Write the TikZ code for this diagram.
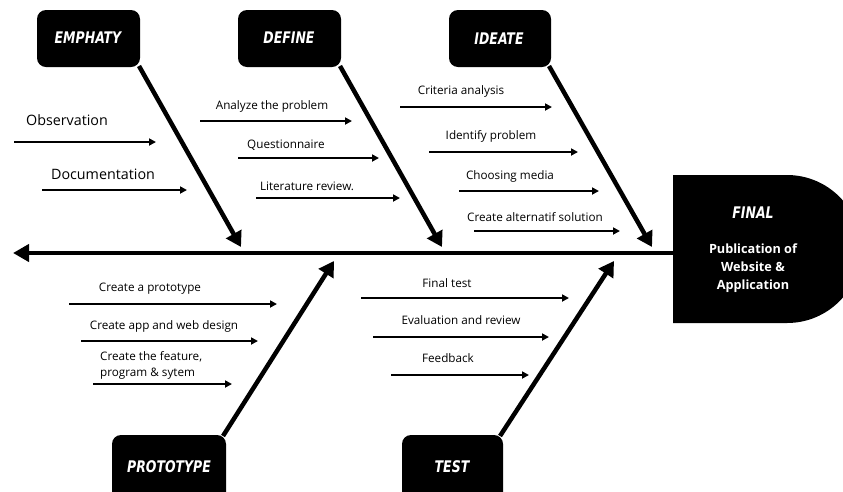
\documentclass[tikz,border=0pt]{standalone}
\usepackage{fontspec}
\setmainfont{Open Sans}
\newfontfamily\headfont{DejaVu Sans}
\usetikzlibrary{arrows.meta}
\tikzset{
  hbox/.style={fill=black, rounded corners=9pt},
  htext/.style={text=white, font=\headfont\bfseries\itshape\fontsize{16}{16}\selectfont, inner sep=0pt},
  bone/.style={line width=4.5pt, -{Triangle[length=15pt,width=17pt]}},
  twig/.style={line width=1.8pt, -{Triangle[length=7pt,width=7pt]}},
  lbl/.style={font=\fontsize{11.7}{13}\selectfont, inner sep=0pt},
  biglbl/.style={font=\fontsize{14.3}{16}\selectfont, inner sep=0pt},
}
\newcommand{\hd}[1]{\scalebox{0.78}[1]{#1}}
\begin{document}
\begin{tikzpicture}[x=1pt,y=-1pt]
\useasboundingbox (0,0) rectangle (843,491);
\begin{scope}
\clip (0,0) rectangle (843,491);
% header boxes
\fill[hbox] (37,10) rectangle (140,67);
\fill[hbox] (238,10) rectangle (341,67);
\fill[hbox] (449,10) rectangle (551,67);
\fill[hbox] (112,435) rectangle (226,510);
\fill[hbox] (402,435) rectangle (503,510);
% final box
\fill (673,175) -- (787,175) arc[start angle=-90, end angle=90, radius=74] -- (673,323) -- cycle;
\end{scope}
\node[htext] (emp) at (88,38) {\hd{EMPHATY}};
\node[htext] (def) at (289,38) {\hd{DEFINE}};
\node[htext] (ide) at (499,39) {\hd{IDEATE}};
\node[htext] (pro) at (169,467) {\hd{PROTOTYPE}};
\node[htext] (tst) at (452,467) {\hd{TEST}};
\node[htext] (fin) at (753,213) {\hd{FINAL}};
\node[text=white, font=\bfseries\fontsize{12.7}{18}\selectfont, align=center, inner sep=0pt] (pub) at (753,268) {Publication of\\Website \&\\Application};
% spine
\coordinate (sp1) at (673,253);
\coordinate (sp0) at (13,253);
\draw[line width=4pt, -{Triangle[length=16pt,width=17pt]}] (sp1) -- (sp0);
% bones
\coordinate (e0) at (139,66); \coordinate (e1) at (241,247);
\coordinate (d0) at (340,66); \coordinate (d1) at (442,247);
\coordinate (i0) at (549,66); \coordinate (i1) at (652,247);
\coordinate (p0) at (223,436); \coordinate (p1) at (334,261);
\coordinate (t0) at (500,436); \coordinate (t1) at (614,261);
\draw[bone] (e0) -- (e1);
\draw[bone] (d0) -- (d1);
\draw[bone] (i0) -- (i1);
\draw[bone] (p0) -- (p1);
\draw[bone] (t0) -- (t1);
% emphaty twigs
\node[biglbl] (obs) at (67,120) {Observation};
\coordinate (a1s) at (14,142); \coordinate (a1e) at (156,142);
\draw[twig] (a1s) -- (a1e);
\node[biglbl] (doc) at (103,174) {Documentation};
\coordinate (a2s) at (42,190); \coordinate (a2e) at (187,190);
\draw[twig] (a2s) -- (a2e);
% define twigs
\node[lbl] (ana) at (272,106) {Analyze the problem};
\coordinate (b1s) at (200,121); \coordinate (b1e) at (352,121);
\draw[twig] (b1s) -- (b1e);
\node[lbl] (que) at (286,145) {Questionnaire};
\coordinate (b2s) at (238,158); \coordinate (b2e) at (379,158);
\draw[twig] (b2s) -- (b2e);
\node[lbl] (lit) at (307,186) {Literature review.};
\coordinate (b3s) at (256,198); \coordinate (b3e) at (400,198);
\draw[twig] (b3s) -- (b3e);
% ideate twigs
\node[lbl] (cri) at (461,91) {Criteria analysis};
\coordinate (c1s) at (400,107); \coordinate (c1e) at (552,107);
\draw[twig] (c1s) -- (c1e);
\node[lbl] (idp) at (491,136) {Identify problem};
\coordinate (c2s) at (429,152); \coordinate (c2e) at (578,152);
\draw[twig] (c2s) -- (c2e);
\node[lbl] (cho) at (510,176) {Choosing media};
\coordinate (c3s) at (459,191); \coordinate (c3e) at (599,191);
\draw[twig] (c3s) -- (c3e);
\node[lbl] (alt) at (535,217) {Create alternatif solution};
\coordinate (c4s) at (474,231); \coordinate (c4e) at (620,231);
\draw[twig] (c4s) -- (c4e);
% prototype twigs
\node[lbl] (cap) at (150,289) {Create a prototype};
\coordinate (f1s) at (69,304); \coordinate (f1e) at (277,304);
\draw[twig] (f1s) -- (f1e);
\node[lbl] (caw) at (164,326) {Create app and web design};
\coordinate (f2s) at (81,341); \coordinate (f2e) at (258,341);
\draw[twig] (f2s) -- (f2e);
\node[lbl, align=left, anchor=north west, font=\fontsize{11.7}{16.5}\selectfont] (ctf) at (100,351) {Create the feature,\\program \& sytem};
\coordinate (f3s) at (93,384); \coordinate (f3e) at (232,384);
\draw[twig] (f3s) -- (f3e);
% test twigs
\node[lbl] (fte) at (447,283) {Final test};
\coordinate (g1s) at (361,298); \coordinate (g1e) at (569,298);
\draw[twig] (g1s) -- (g1e);
\node[lbl] (eva) at (461,320) {Evaluation and review};
\coordinate (g2s) at (373,337); \coordinate (g2e) at (549,337);
\draw[twig] (g2s) -- (g2e);
\node[lbl] (fee) at (448,358) {Feedback};
\coordinate (g3s) at (391,375); \coordinate (g3e) at (529,375);
\draw[twig] (g3s) -- (g3e);
\end{tikzpicture}
\end{document}
